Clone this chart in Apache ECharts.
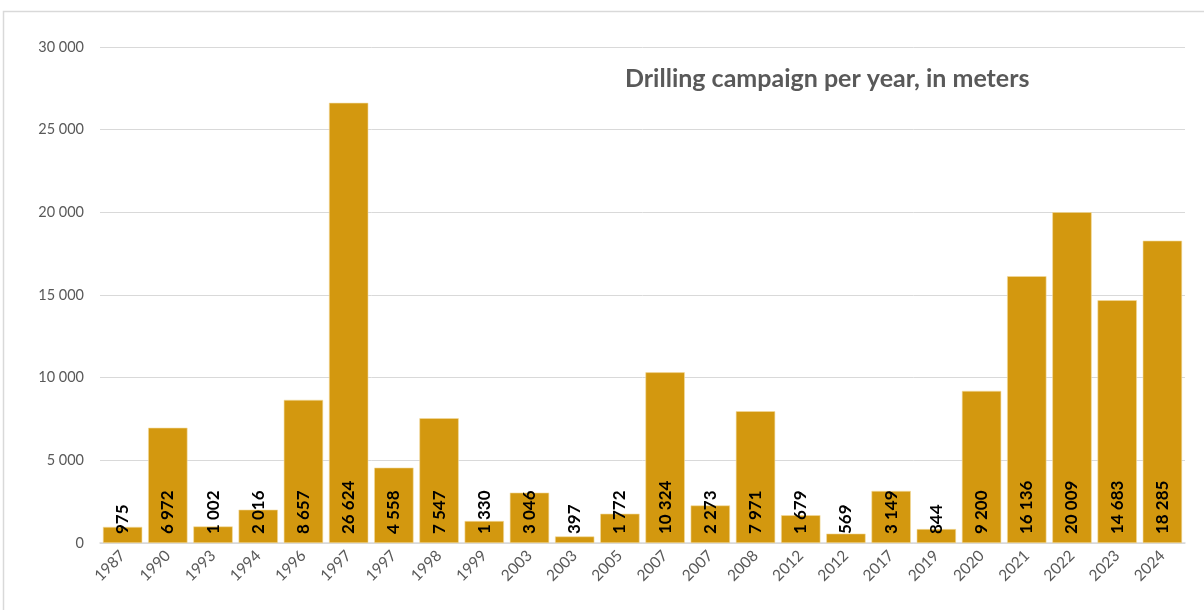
<!DOCTYPE html>
<html><head><meta charset="utf-8">
<script src="https://cdn.jsdelivr.net/npm/echarts@6/dist/echarts.min.js"></script>
<style>html,body{margin:0;padding:0;background:#fff}#c{width:1204px;height:610px}</style>
</head><body><div id="c"></div>
<script>
var categories = ['1987','1990','1993','1994','1996','1997','1997','1998','1999','2003','2003','2005','2007','2007','2008','2012','2012','2017','2019','2020','2021','2022','2023','2024'];
var meters = [975,6972,1002,2016,8657,26624,4558,7547,1330,3046,397,1772,10324,2273,7971,1679,569,3149,844,9200,16136,20009,14683,18285];
var titleText = 'Drilling campaign per year, in meters';

function fmt(v){ return String(v).replace(/\B(?=(\d{3})+(?!\d))/g, ' '); }

var chart = echarts.init(document.getElementById('c'));
chart.setOption({
  animation: false,
  textStyle: { fontFamily: 'Lato, "Open Sans", sans-serif' },
  graphic: [{ type: 'rect', shape: { x: 3.5, y: 11.5, width: 1400, height: 800 }, style: { fill: 'none', stroke: '#d9d9d9', lineWidth: 1.5 }, silent: true }],
  title: { text: titleText, left: 620, top: 61, textStyle: { fontSize: 25, fontWeight: 'bold', color: '#595959', fontFamily: 'Lato, "Open Sans", sans-serif' } },
  grid: { left: 100, right: 19, top: 47, bottom: 67 },
  xAxis: {
    type: 'category', data: categories,
    axisLine: { lineStyle: { color: '#d9d9d9', width: 1.5 } },
    axisTick: { show: false },
    axisLabel: { rotate: 45, color: '#595959', fontSize: 15.5, margin: 10, interval: 0 }
  },
  yAxis: {
    type: 'value', min: 0, max: 30000, interval: 5000,
    axisLine: { show: false }, axisTick: { show: false },
    splitLine: { lineStyle: { color: '#d9d9d9', width: 1 } },
    axisLabel: { color: '#595959', fontSize: 14.5, margin: 16, formatter: function(v){ return fmt(v); } }
  },
  series: [{
    type: 'bar', data: meters, barCategoryGap: '13%',
    itemStyle: { color: '#D3980F', borderColor: '#f3dca0', borderWidth: 0.6 },
    label: {
      show: true, position: 'insideBottom', rotate: 90, align: 'left', verticalAlign: 'middle', distance: 9,
      color: '#000', fontSize: 17, fontWeight: 'bold',
      formatter: function(p){ return fmt(p.value); }
    }
  }]
});
</script></body></html>
